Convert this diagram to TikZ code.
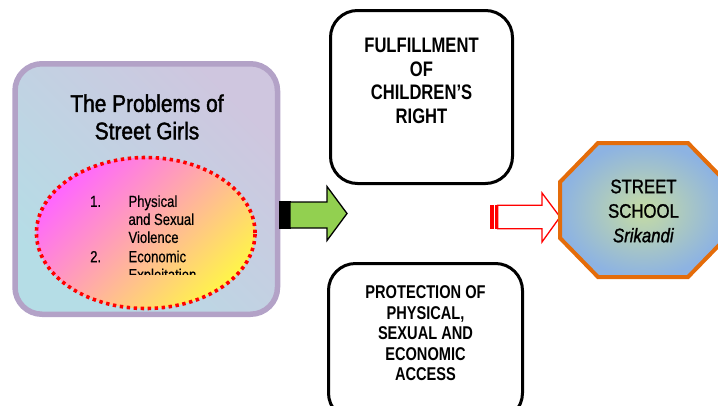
\documentclass[tikz,border=0pt]{standalone}
\usepackage{fontspec}
\setmainfont{Liberation Sans}
\newfontfamily\ftitle[FakeStretch=0.87,FakeBold=1.6]{Liberation Sans}
\newfontfamily\fbx[FakeStretch=0.79]{Liberation Sans}
\newfontfamily\fsch[FakeStretch=0.86,FakeBold=1.3]{Liberation Sans}
\newfontfamily\flist[FakeStretch=0.82,FakeBold=0.6]{Liberation Sans}
\definecolor{boxpurple}{HTML}{B3A2C7}
\definecolor{lav}{HTML}{CFC6DF}
\definecolor{paleblue}{HTML}{B5DDE6}
\definecolor{magentaish}{HTML}{FF66FF}
\definecolor{pinkmid}{HTML}{FFB5CC}
\definecolor{yellowish}{HTML}{FFF44A}
\definecolor{arrowgreen}{HTML}{92D050}
\definecolor{octorange}{HTML}{E46C0A}
\definecolor{octblue}{HTML}{8DB3E2}
\definecolor{octcenter}{HTML}{C6DCA3}
\tikzset{
  probbox/.style={draw=boxpurple, line width=5.5pt, rounded corners=27pt,
    top color=lav, bottom color=paleblue, shading angle=-45,
    inner sep=0pt, minimum width=262.5pt, minimum height=250.5pt},
  whitebox/.style={draw=black, line width=3pt, rounded corners=27pt, fill=white,
    inner sep=0pt},
  problist/.style={draw=red, line width=3.6pt, dash pattern=on 3.4pt off 3.6pt,
    top color=magentaish, middle color=pinkmid, bottom color=yellowish, shading angle=45,
    ellipse, inner sep=0pt, minimum width=218.6pt, minimum height=151pt},
  boxtext/.style={font=\fbx\bfseries, align=center, inner sep=0pt},
  octshape/.style={draw=octorange, line width=4pt, inner color=octcenter, outer color=octblue},
  greenarrow/.style={fill=arrowgreen, draw=black, line width=1.3pt, line join=miter},
  redarrow/.style={fill=white, draw=red, line width=1.3pt, line join=miter}
}
\usetikzlibrary{shapes.geometric}
\begin{document}
\begin{tikzpicture}[x=1pt,y=-1pt]
\useasboundingbox (0,0) rectangle (718,405);
\clip (0,0) rectangle (718,405);
% left box
\node[probbox] (prob) at (146.25,189) {};
\node[font=\ftitle\fontsize{24}{27.5}\selectfont, align=center, inner sep=0pt] (title) at (147,117) {The Problems of\\Street Girls};
\node[problist] (ell) at (145.75,233) {};
\begin{scope}
\clip (0,0) rectangle (718,274);
\node[anchor=north west, inner sep=0pt, font=\flist\fontsize{16}{18}\selectfont] (list) at (90,194.1)
  {\begin{tabular}{@{}p{38.3pt}@{}l@{}}1.&Physical\\ &and Sexual\\ &Violence\\[1.3pt] 2.&Economic\\ &Exploitation\end{tabular}};
\end{scope}
% white boxes
\node[whitebox, minimum width=182pt, minimum height=173pt] (fulf) at (421.5,97) {};
\node[boxtext, font=\fbx\bfseries\fontsize{21}{23.5}\selectfont] (fulftext) at (421.5,81) {FULFILLMENT\\OF\\CHILDREN’S\\RIGHT};
\node[whitebox, minimum width=194pt, minimum height=156.5pt] (prot) at (425.5,341.75) {};
\node[boxtext, font=\fbx\bfseries\fontsize{18.5}{20.5}\selectfont] (prottext) at (425.5,333.4) {PROTECTION OF\\PHYSICAL,\\SEXUAL AND\\ECONOMIC\\ACCESS};
% green arrow
\fill[black] (279,201.3) rectangle (291,228.7);
\draw[greenarrow] (290,202) -- (327,202) -- (327,186.5) -- (347,213.5) -- (327,240.5) -- (327,228) -- (290,228) -- cycle;
% red arrow
\fill[red] (490,205) rectangle (494.2,229);
\fill[red] (495.4,205) rectangle (497.2,229);
\draw[redarrow] (497.6,205.3) -- (542,205.3) -- (542,193) -- (560,217) -- (542,242) -- (542,228.7) -- (497.6,228.7) -- cycle;
% octagon
\draw[octshape] (598,143) -- (688,143) -- (726,182) -- (726,238) -- (688,277) -- (598,277) -- (560,238) -- (560,182) -- cycle;
\node[font=\fsch\fontsize{19.5}{24.5}\selectfont, align=center, inner sep=0pt] (school) at (643.5,211) {STREET\\SCHOOL\\\textit{Srikandi}};
\end{tikzpicture}
\end{document}
